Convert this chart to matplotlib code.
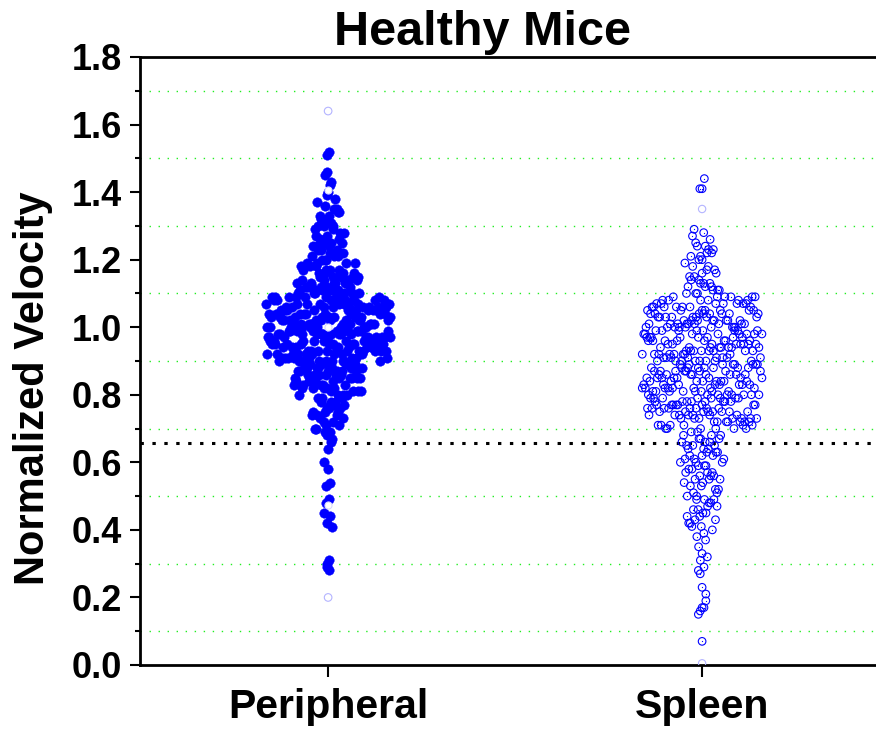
import numpy as np
import matplotlib
matplotlib.use("Agg")
import matplotlib.pyplot as plt
from matplotlib.ticker import MultipleLocator

plt.rcParams['font.family'] = ['Liberation Sans', 'DejaVu Sans']
plt.rcParams['font.weight'] = 'bold'

groups = ["Peripheral", "Spleen"]

# Peripheral: velocity levels and number of cells at each level
p_levels = [0.28, 0.29, 0.30, 0.31, 0.41, 0.42, 0.44, 0.45, 0.48, 0.49,
            0.53, 0.54, 0.58, 0.60, 0.64, 0.66, 0.67, 0.68, 0.69,
            0.70, 0.71, 0.72, 0.73, 0.74, 0.75, 0.76, 0.77, 0.78, 0.79,
            0.80, 0.81, 0.82, 0.83, 0.84, 0.85, 0.86, 0.87, 0.88, 0.89,
            0.90, 0.91, 0.92, 0.93, 0.94, 0.95, 0.96, 0.97, 0.98, 0.99,
            1.00, 1.01, 1.02, 1.03, 1.04, 1.05, 1.06, 1.07, 1.08, 1.09,
            1.10, 1.11, 1.12, 1.13, 1.14, 1.15, 1.16, 1.17, 1.18, 1.19,
            1.20, 1.21, 1.22, 1.23, 1.24, 1.25, 1.26, 1.27, 1.28, 1.29,
            1.30, 1.31, 1.32, 1.33, 1.34, 1.35, 1.36, 1.37, 1.38, 1.39,
            1.40, 1.42, 1.43, 1.45, 1.46, 1.51, 1.52]
p_counts = [1, 1, 1, 1, 1, 1, 1, 1, 1, 1,
            1, 1, 1, 1, 1, 1, 1, 1, 2,
            2, 2, 2, 2, 3, 3, 3, 3, 3, 3,
            4, 4, 5, 5, 5, 6, 6, 6, 7, 7,
            9, 9, 9, 10, 10, 10, 10, 10, 11, 11,
            11, 11, 11, 10, 10, 10, 10, 9, 9, 9,
            6, 6, 6, 5, 5, 5, 5, 4, 4, 4,
            3, 3, 3, 3, 3, 3, 2, 2, 2, 2,
            3, 3, 2, 2, 2, 2, 1, 1, 1, 1,
            1, 1, 1, 1, 1, 1, 1]
p_faded = [0.20, 1.64]
p_white = [0.475, 1.00, 1.405]

# Spleen
s_levels = [0.07, 0.15, 0.16, 0.17, 0.19, 0.21, 0.23, 0.27, 0.28, 0.29,
            0.31, 0.32, 0.33, 0.35, 0.37, 0.38, 0.39,
            0.40, 0.41, 0.42, 0.43, 0.44, 0.45, 0.46, 0.47, 0.48, 0.49,
            0.50, 0.51, 0.52, 0.53, 0.54, 0.55, 0.56, 0.57, 0.58, 0.59,
            0.60, 0.61, 0.62, 0.63, 0.64, 0.65, 0.66, 0.67, 0.68, 0.69,
            0.70, 0.71, 0.72, 0.73, 0.74, 0.75, 0.76, 0.77, 0.78, 0.79,
            0.80, 0.81, 0.82, 0.83, 0.84, 0.85, 0.86, 0.87, 0.88, 0.89,
            0.90, 0.91, 0.92, 0.93, 0.94, 0.95, 0.96, 0.97, 0.98, 0.99,
            1.00, 1.01, 1.02, 1.03, 1.04, 1.05, 1.06, 1.07, 1.08, 1.09,
            1.10, 1.11, 1.12, 1.13, 1.14, 1.15, 1.16, 1.17, 1.18, 1.19,
            1.20, 1.21, 1.22, 1.23, 1.24, 1.25, 1.26, 1.27, 1.28, 1.29,
            1.41, 1.44]
s_counts = [1, 1, 1, 2, 1, 1, 1, 1, 1, 1,
            1, 1, 1, 1, 1, 1, 1,
            1, 2, 2, 2, 2, 2, 2, 2, 2, 3,
            2, 2, 2, 2, 2, 3, 3, 3, 2, 3,
            3, 3, 3, 3, 3, 3, 3, 3, 3, 2,
            6, 6, 7, 7, 7, 8, 8, 8, 8, 8,
            8, 8, 8, 8, 8, 8, 8, 8, 8, 8,
            8, 8, 8, 8, 8, 8, 8, 8, 8, 8,
            9, 9, 8, 8, 8, 7, 7, 7, 6, 6,
            3, 3, 3, 3, 2, 2, 2, 2, 2, 1,
            2, 2, 2, 2, 2, 1, 1, 1, 1, 1,
            2, 1]
s_faded = [0.005, 1.35]

cutoff = 0.657


def swarm_x(values, center, halfwidth, binw=0.1):
    # spread points sideways: width of each 0.1 bin follows its count
    values = np.sort(np.asarray(values, dtype=float))
    bins = np.floor(values / binw + 1e-6).astype(int)
    uniq, cnt = np.unique(bins, return_counts=True)
    nmax = cnt.max()
    xs = np.empty_like(values)
    for b, n in zip(uniq, cnt):
        idx = np.where(bins == b)[0]
        w = halfwidth * n / nmax
        slots = np.array([0.0]) if n == 1 else np.linspace(-w, w, n)
        # scramble slot order with a fixed hash so rows do not line up
        key = np.abs(np.modf(np.sin(np.arange(n) * 12.9898 + b * 78.233) * 43758.5453)[0])
        rank = np.argsort(np.argsort(key))
        xs[idx] = center + slots[rank]
    return values, xs


p_vals = np.repeat(p_levels, p_counts)
s_vals = np.repeat(s_levels, s_counts)

fig = plt.figure(figsize=(8.76, 7.31), dpi=100)
ax = fig.add_axes([140 / 876, 66 / 731, 736 / 876, 608 / 731])

blue = "#0000ff"
py, px = swarm_x(p_vals, 1, 0.166)
ax.scatter(px, py, s=47, color=blue, edgecolors=blue, linewidths=0.3, zorder=3)
ax.scatter([1] * len(p_white), p_white, s=26, facecolors="white",
           edgecolors="#d8d8ff", linewidths=0.8, zorder=4)
ax.scatter([1] * len(p_faded), p_faded, s=30, facecolors="none",
           edgecolors="#b4b4ff", linewidths=0.8, zorder=4)

sy, sx = swarm_x(s_vals, 2, 0.160)
ax.scatter(sx, sy, s=30, facecolors="none", edgecolors=blue, linewidths=0.8, zorder=3)
ax.scatter(sx, sy, s=0.8, color=blue, linewidths=0, zorder=3)
ax.scatter([2] * len(s_faded), s_faded, s=28, facecolors="none",
           edgecolors="#b4b4ff", linewidths=0.8, zorder=4)

ax.axhline(cutoff, color="black", linewidth=2.2, linestyle=(0, (1.1, 2.8)), zorder=2)

ax.set_xlim(0.497, 2.465)
ax.set_ylim(0, 1.8)
ax.yaxis.set_major_locator(MultipleLocator(0.2))
ax.yaxis.set_minor_locator(MultipleLocator(0.1))
ax.yaxis.grid(True, which="minor", color="#22ee22", linestyle=(0, (1, 5.5)), linewidth=1.0)
ax.set_axisbelow(True)

ax.set_xticks([1, 2])
ax.set_xticklabels(groups, fontsize=29.5, fontweight="bold")
for lab in ax.get_yticklabels():
    lab.set_fontweight("bold")

ax.tick_params(axis="y", which="major", length=7.2, width=1.5, pad=6, labelsize=26)
ax.tick_params(axis="y", which="minor", length=3.6, width=1.5)
ax.tick_params(axis="x", which="major", length=8.5, width=1.5, pad=8)

for side in ["left", "bottom", "top"]:
    ax.spines[side].set_linewidth(2.0)
ax.spines["right"].set_visible(False)

fig.text(33 / 876, 1 - 388 / 731, "Normalized Velocity", rotation=90,
         ha="center", va="center", fontsize=30, fontweight="bold")
fig.text(482 / 876, 1 - 45 / 731, "Healthy Mice", ha="center", va="baseline",
         fontsize=35, fontweight="bold")

fig.savefig("out.png", dpi=100)
